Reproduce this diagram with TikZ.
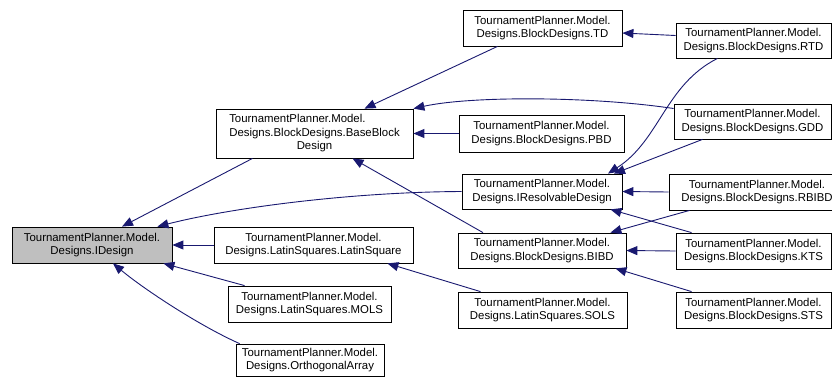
\documentclass[tikz,border=0pt]{standalone}
\usepackage{fontspec}
\setmainfont{Liberation Sans}
\usepackage{tikz}
\usetikzlibrary{arrows.meta, calc}
\definecolor{edgeBlue}{RGB}{25,25,112}
\definecolor{rootGray}{RGB}{191,191,191}
\tikzstyle{classNode} = [
                rectangle,
                draw=black,
                fill=white,
                line width=0.8pt,
                minimum height=36pt,
                inner sep=1pt,
                align=center,
                font=\fontsize{11.4}{13.5}\selectfont
            ]
\tikzstyle{rootNode} = [classNode, fill=rootGray]
\tikzstyle{inheritArrow} = [line width=0.9pt, draw=edgeBlue, -{Triangle[length=11pt,width=9pt]}]

\begin{document}
\begin{tikzpicture}[x=1pt, y=-1pt]
                            \useasboundingbox (0,0) rectangle (832,376);
                            \node (idesign) [rootNode, minimum width=160pt] at (92,245) {TournamentPlanner.Model.\\Designs.IDesign};
                            \node (bbd) [classNode, minimum width=197pt, minimum height=49pt] at (314.5,133.5) {\begin{tabular}{@{}l@{}}TournamentPlanner.Model.\\Designs.BlockDesigns.BaseBlock\\\multicolumn{1}{@{}c@{}}{Design}\end{tabular}};
                            \node (latsq) [classNode, minimum width=199pt] at (313.5,245) {TournamentPlanner.Model.\\Designs.LatinSquares.LatinSquare};
                            \node (mols) [classNode, minimum width=163pt] at (309.5,304) {TournamentPlanner.Model.\\Designs.LatinSquares.MOLS};
                            \node (orth) [classNode, minimum width=148pt, minimum height=32pt] at (310,360) {TournamentPlanner.Model.\\Designs.OrthogonalArray};
                            \node (td) [classNode, minimum width=159pt] at (542.5,28) {TournamentPlanner.Model.\\Designs.BlockDesigns.TD};
                            \node (pbd) [classNode, minimum width=165pt, minimum height=37pt] at (541.5,133.5) {TournamentPlanner.Model.\\Designs.BlockDesigns.PBD};
                            \node (ird) [classNode, minimum width=160pt, minimum height=35pt] at (542,191.5) {TournamentPlanner.Model.\\Designs.IResolvableDesign};
                            \node (bibd) [classNode, minimum width=168pt, minimum height=35pt] at (542,250.5) {TournamentPlanner.Model.\\Designs.BlockDesigns.BIBD};
                            \node (sols) [classNode, minimum width=169pt] at (542.5,310) {TournamentPlanner.Model.\\Designs.LatinSquares.SOLS};
                            \node (rtd) [classNode, minimum width=155pt, minimum height=35pt] at (753.5,40.5) {TournamentPlanner.Model.\\Designs.BlockDesigns.RTD};
                            \node (gdd) [classNode, minimum width=157pt, minimum height=35pt] at (752.5,121.5) {TournamentPlanner.Model.\\Designs.BlockDesigns.GDD};
                            \node (rbibd) [classNode, minimum width=176pt] at (757,192) {TournamentPlanner.Model.\\Designs.BlockDesigns.RBIBD};
                            \node (kts) [classNode, minimum width=155pt] at (753.5,251) {TournamentPlanner.Model.\\Designs.BlockDesigns.KTS};
                            \node (sts) [classNode, minimum width=155pt] at (753.5,310) {TournamentPlanner.Model.\\Designs.BlockDesigns.STS};
                            \draw [inheritArrow] ($(bbd.south)+(-62,0)$) -- ($(idesign.north)+(30,0)$);
                            \draw [inheritArrow] (ird.west) .. controls (350,192) and (230,208) .. ($(idesign.north east)+(-15,0)$);
                            \draw [inheritArrow] (latsq) -- (idesign);
                            \draw [inheritArrow] ($(mols.north west)+(17,0)$) -- ($(idesign.south east)+(-9,0)$);
                            \draw [inheritArrow] ($(orth.north west)+(4,0)$) .. controls (200,326) and (145,290) .. ($(idesign.south)+(21,0)$);
                            \draw [inheritArrow] ($(td.south)+(-45,0)$) -- ($(bbd.north)+(50,0)$);
                            \draw [inheritArrow] ($(gdd.west)+(0,-13)$) .. controls (590,96) and (470,96) .. (bbd.north east);
                            \draw [inheritArrow] (pbd) -- (bbd);
                            \draw [inheritArrow] ($(bibd.north)+(-59,0)$) -- ($(bbd.south)+(38,0)$);
                            \draw [inheritArrow] ($(rtd.south)+(-36,0)$) .. controls (665,85) and (660,140) .. ($(ird.north)+(66,0)$);
                            \draw [inheritArrow] ($(gdd.south)+(-50,0)$) -- ($(ird.north)+(72,0)$);
                            \draw [inheritArrow] (rbibd.west) -- (ird.east);
                            \draw [inheritArrow] ($(kts.north west)+(16,0)$) -- ($(ird.south east)+(-12,0)$);
                            \draw [inheritArrow] ($(rbibd.south west)+(21,0)$) -- ($(bibd.north east)+(-16,0)$);
                            \draw [inheritArrow] (kts.west) -- (bibd.east);
                            \draw [inheritArrow] ($(sts.north west)+(16,0)$) -- ($(bibd.south east)+(-11,0)$);
                            \draw [inheritArrow] ($(sols.north)+(-62,0)$) -- ($(latsq.south east)+(-26,0)$);
                            \draw [inheritArrow] ($(rtd.west)+(0,-5)$) -- ($(td.east)+(0,5)$);
                        \end{tikzpicture}
\end{document}
